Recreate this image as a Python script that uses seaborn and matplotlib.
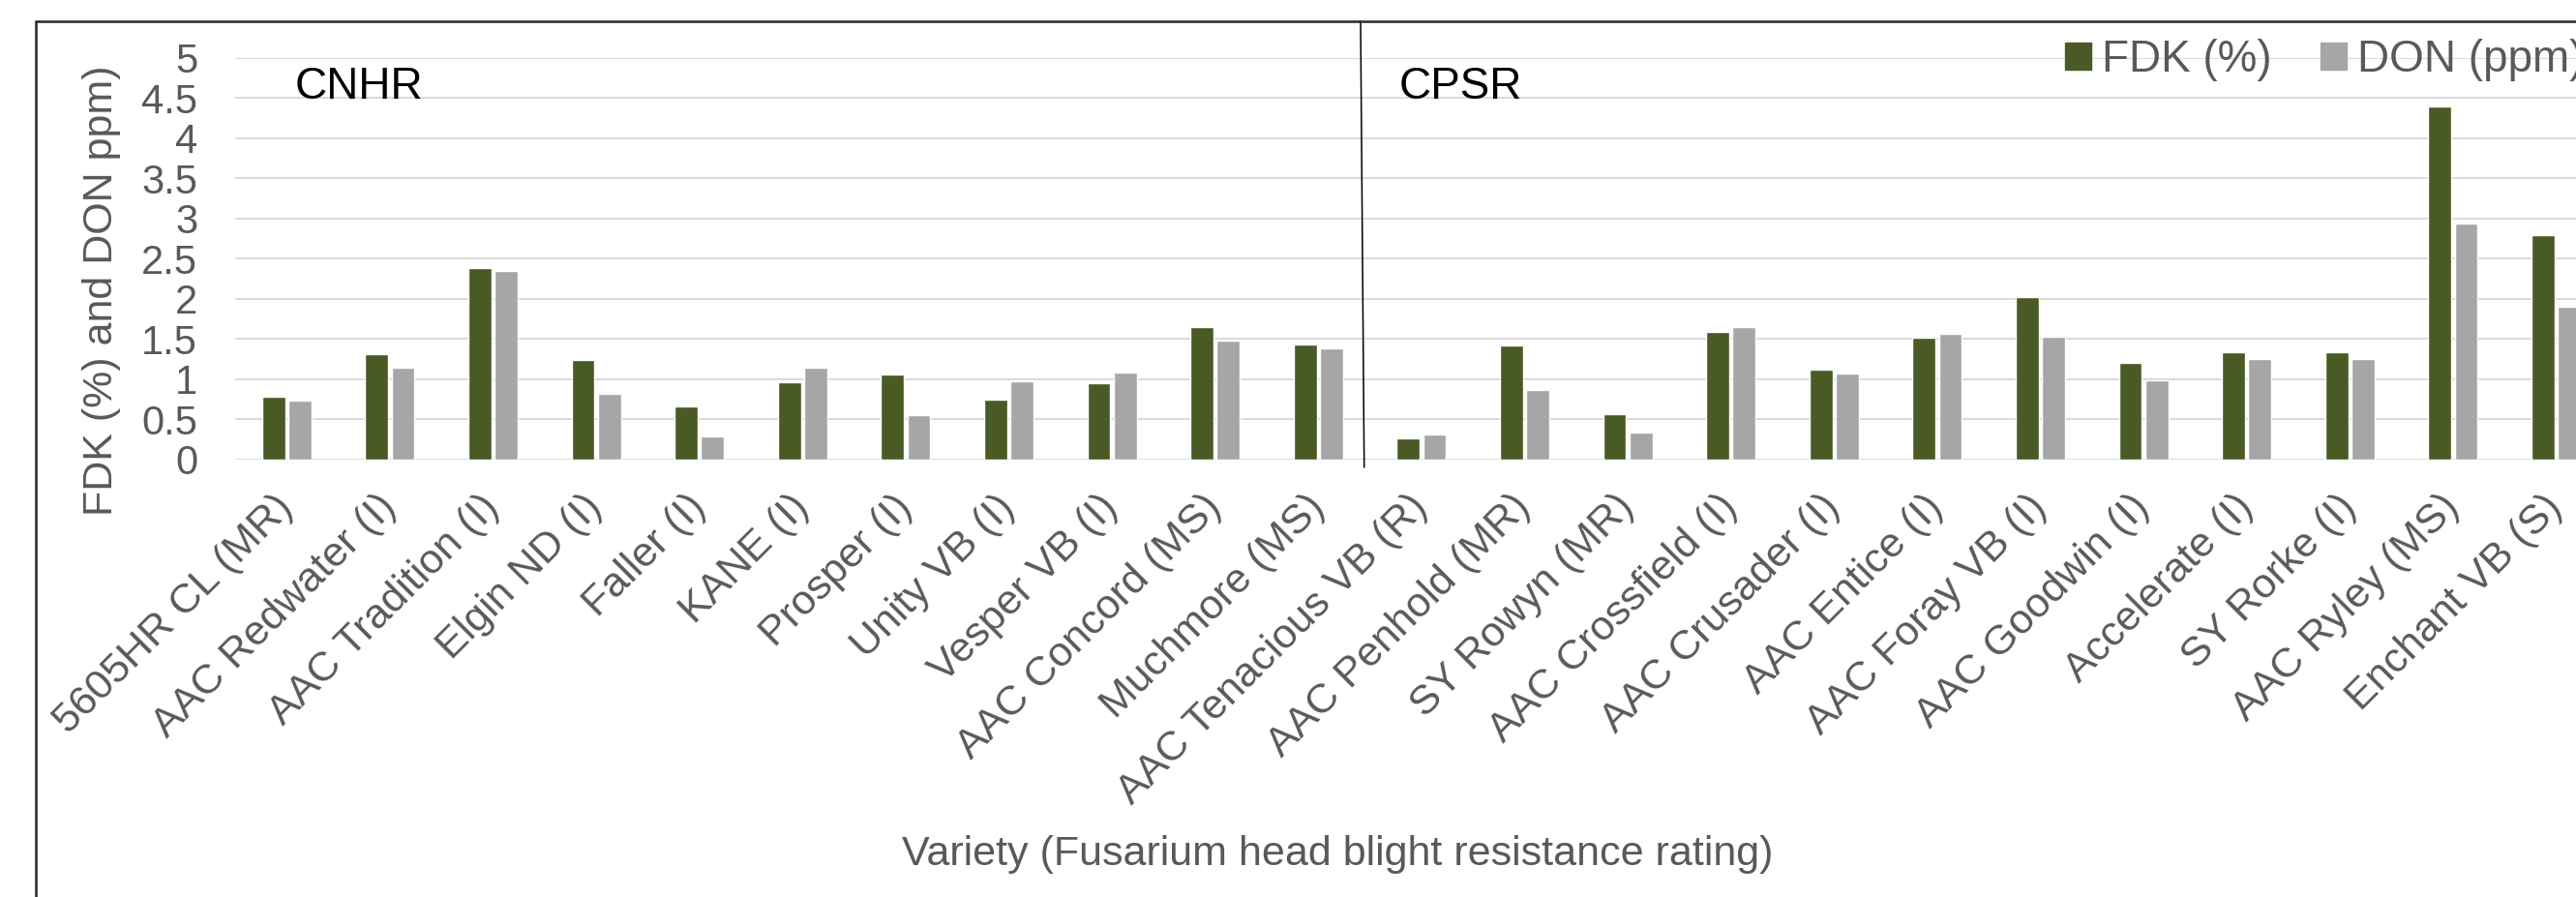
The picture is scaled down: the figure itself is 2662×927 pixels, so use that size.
import numpy as np
import pandas as pd
import matplotlib
matplotlib.use("Agg")
import matplotlib.pyplot as plt
import matplotlib.patches as mpatches
from matplotlib.transforms import blended_transform_factory
import seaborn as sns

# ---------------- data ----------------
cnhr_varieties = ["5605HR CL (MR)", "AAC Redwater (I)", "AAC Tradition (I)", "Elgin ND (I)",
                  "Faller (I)", "KANE (I)", "Prosper (I)", "Unity VB (I)", "Vesper VB (I)",
                  "AAC Concord (MS)", "Muchmore (MS)"]
cpsr_varieties = ["AAC Tenacious VB (R)", "AAC Penhold (MR)", "SY Rowyn (MR)", "AAC Crossfield (I)",
                  "AAC Crusader (I)", "AAC Entice (I)", "AAC Foray VB (I)", "AAC Goodwin (I)",
                  "Accelerate (I)", "SY Rorke (I)", "AAC Ryley (MS)", "Enchant VB (S)"]
fdk_cnhr = [0.78, 1.31, 2.39, 1.24, 0.66, 0.96, 1.06, 0.75, 0.95, 1.65, 1.43]
don_cnhr = [0.73, 1.15, 2.35, 0.82, 0.29, 1.14, 0.56, 0.98, 1.08, 1.48, 1.39]
fdk_cpsr = [0.27, 1.42, 0.57, 1.59, 1.12, 1.52, 2.03, 1.21, 1.34, 1.34, 4.40, 2.80]
don_cpsr = [0.31, 0.87, 0.34, 1.65, 1.07, 1.57, 1.53, 0.99, 1.25, 1.25, 2.94, 1.90]
series_names = ["FDK (%)", "DON (ppm)"]
group_names = ["CNHR", "CPSR"]
y_ticks = [0, 0.5, 1, 1.5, 2, 2.5, 3, 3.5, 4, 4.5, 5]
y_tick_labels = ["0", "0.5", "1", "1.5", "2", "2.5", "3", "3.5", "4", "4.5", "5"]

varieties = cnhr_varieties + cpsr_varieties
fdk = fdk_cnhr + fdk_cpsr
don = don_cnhr + don_cpsr
df = pd.DataFrame({
    "Variety": varieties * 2,
    "Measure": [series_names[0]] * len(varieties) + [series_names[1]] * len(varieties),
    "Value": fdk + don,
})

GREEN = "#4A5A24"
GREY = "#A6A6A6"
TXT = "#595959"

sns.set_style("white")
plt.rcParams["font.family"] = ["Liberation Sans", "DejaVu Sans"]

W, H, DPI = 2662, 927, 100
fig = plt.figure(figsize=(W / DPI, H / DPI), dpi=DPI)
fig.patch.set_facecolor("white")

n = len(varieties)
cat_px = 106.6
left_px, top_px, bottom_px = 243, 60, 475
ax = fig.add_axes([left_px / W, 1 - bottom_px / H, n * cat_px / W, (bottom_px - top_px) / H])

sns.barplot(data=df, x="Variety", y="Value", hue="Measure", palette=[GREEN, GREY],
            width=0.51, gap=0.13, ax=ax, legend=False, saturation=1, errorbar=None)

ax.set_xlim(-0.5, n - 0.5)
ax.set_ylim(0, 5)
ax.set_yticks(y_ticks)
ax.set_yticklabels(y_tick_labels)
for s in ax.spines.values():
    s.set_visible(False)
ax.set_axisbelow(True)
ax.yaxis.grid(True, color="#D9D9D9", linewidth=1.4)
ax.xaxis.grid(False)
ax.tick_params(axis="y", length=0, pad=28, labelsize=30, labelcolor=TXT)
ax.tick_params(axis="x", length=0, pad=31, labelsize=31, labelcolor=TXT)
for lab in ax.get_xticklabels():
    lab.set_rotation(45)
    lab.set_ha("right")
    lab.set_va("center")
    lab.set_rotation_mode("anchor")

ax.set_ylabel("FDK (%) and DON ppm)", fontsize=31, color=TXT)
ax.yaxis.set_label_coords(-0.048, 0.42)
ax.set_xlabel("Variety (Fusarium head blight resistance rating)", fontsize=31, color=TXT)
ax.xaxis.set_label_coords((1382 - left_px) / (n * cat_px), -0.935)

# group labels
ax.text(0.075, 4.49, group_names[0], fontsize=33, color="black", va="baseline", ha="left")
ax.text(10.78, 4.49, group_names[1], fontsize=33, color="black", va="baseline", ha="left")

# divider line between groups
tr = blended_transform_factory(ax.transData, fig.transFigure)
ax.plot([len(cnhr_varieties) - 0.59, len(cnhr_varieties) - 0.555], [1 - 22 / H, 1 - 483 / H],
        transform=tr, color="black", linewidth=1.1, clip_on=False)

# legend
handles = [mpatches.Patch(color=GREEN, label=series_names[0]),
           mpatches.Patch(color=GREY, label=series_names[1])]
fig.legend(handles=handles, loc="center left", bbox_to_anchor=(2134 / W, 1 - 62 / H),
           ncol=2, frameon=False, fontsize=33, handlelength=0.58, handleheight=0.58,
           handletextpad=0.25, columnspacing=1.1, borderpad=0, borderaxespad=0,
           labelcolor=TXT)

# outer chart frame
frame = mpatches.Rectangle((37 / W, -0.2), 1.5, 1 - 22 / H + 0.2, transform=fig.transFigure,
                           fill=False, edgecolor="#262626", linewidth=1.8, clip_on=False)
fig.add_artist(frame)

fig.savefig("out.png", dpi=DPI)
